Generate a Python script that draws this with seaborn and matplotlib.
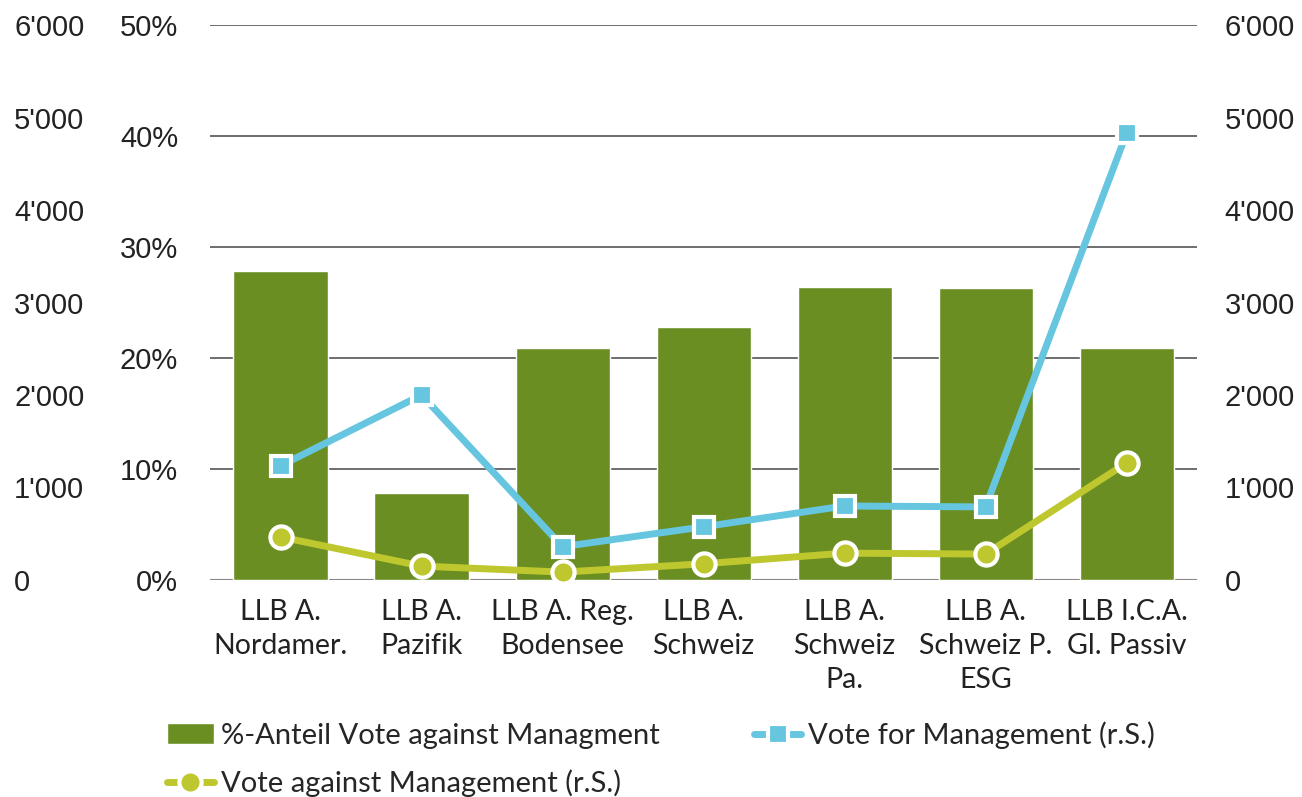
import matplotlib
matplotlib.use("Agg")
import matplotlib.pyplot as plt
import seaborn as sns
import pandas as pd
from matplotlib.ticker import FuncFormatter

categories = ["LLB A.\nNordamer.", "LLB A.\nPazifik", "LLB A. Reg.\nBodensee", "LLB A.\nSchweiz",
              "LLB A.\nSchweiz\nPa.", "LLB A.\nSchweiz P.\nESG", "LLB I.C.A.\nGl. Passiv"]
pct_against = [27.8, 7.8, 20.9, 22.8, 26.4, 26.3, 20.9]
vote_for = [1235, 2000, 360, 575, 800, 790, 4830]
vote_against = [465, 150, 85, 175, 290, 280, 1265]

pct_ticks = [0, 10, 20, 30, 40, 50]
count_ticks = [0, 1000, 2000, 3000, 4000, 5000, 6000]

GREEN = "#6B8E23"
BLUE = "#66C6DF"
LIME = "#BEC82E"

sns.set_style("white")
plt.rcParams["font.family"] = ["Lato", "DejaVu Sans"]

df = pd.DataFrame({"cat": categories, "pct": pct_against, "vfor": vote_for, "vag": vote_against})

fig = plt.figure(figsize=(13.02, 7.97), dpi=100)
ax = fig.add_axes([0.1613, 0.2723, 0.7581, 0.6963])

sns.barplot(data=df, x="cat", y="pct", color=GREEN, saturation=1, width=0.667, ax=ax, zorder=2,
            label="%-Anteil Vote against Managment")
ax.set_ylim(0, 50)
ax.set_yticks(pct_ticks)
ax.yaxis.set_major_formatter(FuncFormatter(lambda v, p: f"{int(v)}%"))
ax.grid(axis="y", color="#555555", linewidth=1.2, zorder=0)
ax.set_axisbelow(True)
for s in ax.spines.values():
    s.set_visible(False)
ax.set_xlabel("")
ax.set_ylabel("")
ax.tick_params(axis="y", length=0, pad=23, labelsize=21, labelcolor="#222222")
ax.tick_params(axis="x", length=0, pad=14)
for lab in ax.get_yticklabels():
    lab.set_fontfamily("Liberation Sans")
ax.set_xticks(range(len(categories)))
ax.set_xticklabels(categories, fontsize=20.5, linespacing=1.38, color="#222222")

def fmt_count(v, p):
    v = int(round(v))
    if v >= 1000:
        return f"{v // 1000}'{v % 1000:03d}"
    return str(v)

ax2 = ax.twinx()
ax2.set_ylim(0, 6000)
sns.pointplot(data=df, x="cat", y="vfor", color=BLUE, markers="s", ax=ax2,
              markersize=15, markeredgecolor="white", markeredgewidth=3, linewidth=5,
              label="Vote for Management (r.S.)", zorder=4)
sns.pointplot(data=df, x="cat", y="vag", color=LIME, markers="o", ax=ax2,
              markersize=16, markeredgecolor="white", markeredgewidth=3, linewidth=5,
              label="Vote against Management (r.S.)", zorder=3)
for line in ax2.lines:
    line.set_clip_on(False)
ax2.set_ylim(0, 6000)
ax2.set_yticks(count_ticks)
ax2.yaxis.set_major_formatter(FuncFormatter(fmt_count))
ax2.tick_params(axis="y", length=0, pad=20, labelsize=21, labelcolor="#222222")
for lab in ax2.get_yticklabels():
    lab.set_fontfamily("Liberation Sans")
ax2.set_ylabel("")
ax2.set_xlabel("")
for s in ax2.spines.values():
    s.set_visible(False)
ax2.grid(False)
ax2.set_xlim(-0.5, len(categories) - 0.5)

ax3 = ax.twinx()
ax3.set_ylim(0, 6000)
ax3.set_yticks(count_ticks)
ax3.yaxis.set_major_formatter(FuncFormatter(fmt_count))
ax3.yaxis.set_ticks_position("left")
ax3.tick_params(axis="y", length=0, pad=141, labelsize=21, labelcolor="#222222")
for lab in ax3.get_yticklabels():
    lab.set_horizontalalignment("left")
    lab.set_fontfamily("Liberation Sans")
for s in ax3.spines.values():
    s.set_visible(False)
ax3.grid(False)
ax3.set_zorder(-1)

ax.axhline(0, color="#888888", linewidth=1.5, zorder=1)

for a in (ax, ax2):
    leg = a.get_legend()
    if leg is not None:
        leg.remove()

h1, l1 = ax.get_legend_handles_labels()
h2, l2 = ax2.get_legend_handles_labels()
handles = [h1[0], h2[1], h2[0]]
labels = [l1[0], l2[1], l2[0]]
leg = fig.legend(handles, labels, loc="upper left", ncol=2,
                 frameon=False, fontsize=21, handlelength=1.6, handleheight=0.7, handletextpad=0.25,
                 columnspacing=3.25, labelspacing=0.72)
leg.set_bbox_to_anchor((0.108, 0.128), transform=fig.transFigure)

fig.savefig("out.png", dpi=100)
